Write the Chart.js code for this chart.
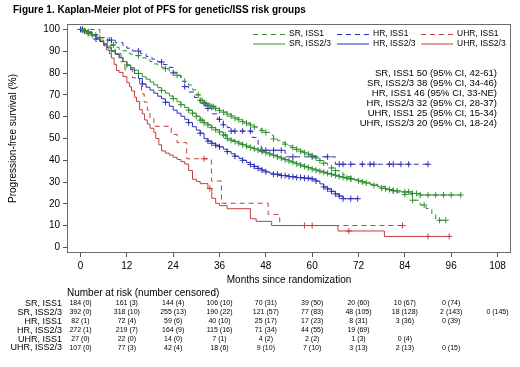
<!DOCTYPE html>
<html>
<head>
<meta charset="utf-8">
<script src="https://cdn.jsdelivr.net/npm/chart.js@4.4.1/dist/chart.umd.min.js"></script>
<style>
  html, body { margin: 0; padding: 0; background: #fff; }
  #wrap { width: 520px; height: 367px; }
</style>
</head>
<body>
<div id="wrap"><canvas id="kmChart" width="520" height="367"></canvas></div>
<script>
// Kaplan-Meier PFS curves: [month, survival %]
const srIss1 = [[0,100],[1,99.5],[2,98.9],[3,98.4],[4,97.3],[5,96.2],[6,95.1],[7,94],[8,92.9],[9,91.8],[10,90.8],[11,90.2],[12,89.1],[13,88.6],[14,88],[15.5,87],[17,86.4],[18,85.3],[19,84.2],[20,83.7],[21,82.6],[22,82],[23,81],[24,80.4],[25,79],[26,77.6],[27,76.2],[28,74.5],[29,72.3],[30,70],[31,67.5],[32,66],[33,65.2],[34,64.6],[35,63.8],[36,62.9],[37,62.1],[38,61.2],[39,60.3],[40,59.4],[41,58.6],[42,57.7],[43,57],[44,56.2],[45,55.3],[46,54.4],[47,53.6],[48,52.8],[49,51.5],[50,49.8],[51,49],[52,48.2],[53,47.4],[54,46.6],[55,45.8],[56,45],[57,44.2],[58,43.5],[59,42.8],[60,42.1],[61,41.1],[62,39.9],[63,38.7],[64,37.5],[65,36.5],[66,35.3],[67,34.3],[68,33.4],[69,32.5],[70,31.7],[71,31],[73,30],[75,29],[77,28],[79,27],[80,26.2],[82,25.4],[84,24.3],[86,21.7],[88,19.5],[89.5,17.9],[91,15],[92,12.5],[94.6,12.5]];
const srIss23 = [[0,100],[1,99.2],[2,98.5],[3,97.4],[4,96.4],[5,95.1],[6,93.6],[7,92],[8,90.3],[9,88.9],[10,87.2],[11,85.3],[12,83.7],[13,82.5],[14,81.3],[15,79.8],[16,78.3],[17,77.2],[18,75.9],[19,74.6],[20,73.3],[21,72],[22,70.8],[23,69.5],[24,68.3],[25,66.8],[26,65.5],[27,64.2],[28,63],[29,61.6],[30,60.2],[31,58.4],[32,57.2],[33,56.2],[34,55],[35,54],[36,53],[37,51.6],[38,49.9],[39,49.2],[40,48.6],[41,47.9],[42,47.2],[43,46.5],[44,45.9],[45,45.3],[46,44.7],[47,44.1],[48,43.5],[49,42.9],[50,42.3],[51,41.6],[52,41],[53,40.3],[54,39.7],[55,39.1],[56,38.4],[57,37.8],[58,37.2],[59,36.6],[60,36],[61,35.5],[62,35],[63,34.5],[64,34],[65,33.6],[66,33.1],[67,32.6],[68,32.2],[69,31.8],[70,31.4],[71,31],[72,30.6],[73,30.1],[74,29.6],[75,29],[76,28.5],[77,27.9],[78,27.2],[79,26.6],[81,26],[83,25.5],[86,24.8],[88,24.1],[98.5,24.1]];
const hrIss1 = [[0,100],[1,98.8],[3,97.6],[5,96.3],[7,95.1],[9,93.9],[11,92.6],[12,91.4],[13.5,90.1],[15.5,88.9],[17,87.6],[18.5,86.4],[20,85.1],[21.5,83.9],[23,82.6],[24,80.1],[25,78.8],[26,76.3],[27,73.8],[28,71.3],[29.5,68.8],[31,66.3],[32.5,63.8],[34,61.3],[35.5,58.8],[37,56.3],[38,55],[39,53.4],[44.5,50.5],[46,47.3],[46.8,44.6],[53,41.6],[66,38.2],[90,38.2]];
const hrIss23 = [[0,100],[1,99.3],[2,98.2],[3,97.1],[4,95.6],[5,94.5],[6,93],[7,91.5],[8,90],[9,88.6],[10,87],[11,85.3],[12,83.5],[13,81.8],[14,79.8],[15,77.5],[16,75],[17,73.5],[18,72.2],[19,70.8],[20,69.4],[21,68.2],[22,66.6],[23,64.8],[24,63],[25,61.6],[26,60.2],[27,58.8],[28,57.3],[29,55.4],[30,53.9],[31,52.4],[32,49.9],[33,48.8],[34,47.8],[35,46.9],[36,46.2],[37,45.1],[38,44],[39,43],[40,41.9],[41,40.9],[42,40],[43,39],[44,38.1],[45,37.2],[46,36.3],[47,35.5],[48,34.7],[49,34.1],[50,33.6],[52,33],[54,32.5],[56,32.1],[58,31.8],[60,31.4],[61,30.5],[62,29.2],[63,27.8],[64,26.9],[65,25.8],[66,24.6],[67,23.6],[68,22.4],[72,22.4]];
const uhrIss1 = [[0,100],[5,96.3],[7.5,92.6],[9,88.9],[10.5,85.2],[11.5,81.5],[13.5,77.8],[15.3,74.1],[15.8,70.4],[16.5,66.7],[17.3,63],[18,59.3],[19,55.6],[23.5,51.9],[25,48.1],[27.5,40.7],[33.9,30.5],[36.5,20.3],[48.6,15.2],[51.6,10.1],[83.4,10.1]];
const uhrIss23 = [[0,100],[1,99.1],[2,98.1],[3,97.2],[4,96.3],[5,94.4],[6,92.5],[6.7,90.6],[7.5,88.8],[8,86.9],[8.7,84],[9.3,81.2],[10,80.3],[11,78.4],[12,75.6],[12.7,73.7],[13.2,71.8],[14,68.9],[14.5,67],[15.3,63.2],[16,61.3],[16.6,58.5],[17.3,56.6],[18,54.7],[19,52.8],[19.5,50],[20.3,47.1],[21,44.3],[22,43.3],[23,42.4],[24,41.4],[25,40.4],[26,39.4],[27,38.3],[28,35.3],[29,31.3],[30,30.3],[31,29.3],[33,27.1],[34,22.6],[35,20.3],[36,19.2],[38,17.8],[44,13.2],[45.5,12],[49.5,10.1],[66.7,7.6],[78.7,5.1],[95.5,5.1]];

// censoring times (months)
const srIss1Cens = [1,2,5,8.5,15,22,25,30.5,31,31.5,32,32.5,33,33.5,34,34.5,35,36,37,38,39,40,41,42,43,44,45,47,48,50,53,55,56,57,58,59,60,61,62,63,65,66,70,79,81,84,86,89,93,94.6];
const srIss23Cens = [0.5,1,2,3,8,12,15,21,24,26,28,29,30,31,31.5,32,33,34,35,36,37,37.5,38,39,40,41,42,43,44,45,46,47,48,49,50,51,52,53,54,55,56,57,58,59,60,61,62,63,64,65,66,67,68,69,70,72,73,74,76,78,80,81,82,84,85,86,87,88,90,92,94,96,98.5];
const hrIss1Cens = [0.5,8,15,21,24,27,32,33,36,37,39,40,42,44,47,48,50,52,55,60,64,67,68,70,73,75,76,80,81,83,85,90];
const hrIss23Cens = [0,0.5,1,4,16,22,28,31,33,34,35,36,38,40,42,44,45,46,47,48,50,51,52,53,54,55,56,57,58,59,60,61,63,64,65,66,67,68,70,71.8];
const uhrIss1Cens = [0.5,32,60,83.4];
const uhrIss23Cens = [0.5,2,33.5,58,69.5,90,95.5];

// number at risk (number censored) at 0,12,...,108 months
const riskTimes = [0,12,24,36,48,60,72,84,96,108];
const riskSR1 = [184,161,144,106,70,39,20,10,0];
const censSR1 = [0,3,4,10,31,50,60,67,74];
const riskSR23 = [392,318,255,190,121,77,48,18,2,0];
const censSR23 = [0,10,13,22,57,83,105,128,143,145];
const riskHR1 = [82,72,59,40,25,17,8,3,0];
const censHR1 = [1,4,6,10,17,23,31,36,39];
const riskHR23 = [272,219,164,115,71,44,19];
const censHR23 = [1,7,9,16,34,55,69];
const riskUHR1 = [27,22,14,7,4,2,1,0];
const censUHR1 = [0,0,0,1,2,2,3,4];
const riskUHR23 = [107,77,42,18,9,7,3,2,0];
const censUHR23 = [0,3,4,6,10,10,13,13,15];

const medianLines = [
  'SR, ISS1 50 (95% CI, 42-61)',
  'SR, ISS2/3 38 (95% CI, 34-46)',
  'HR, ISS1 46 (95% CI, 33-NE)',
  'HR, ISS2/3 32 (95% CI, 28-37)',
  'UHR, ISS1 25 (95% CI, 15-34)',
  'UHR, ISS2/3 20 (95% CI, 18-24)'
];

const GREEN = '#2f8f2f';
const BLUE = '#2e2eb8';
const RED = '#bf3f3f';
const DASH = [5, 4];

const groups = [
  { name: 'SR, ISS1', curve: srIss1, cens: srIss1Cens, risk: riskSR1, censN: censSR1, color: GREEN, dashed: true },
  { name: 'SR, ISS2/3', curve: srIss23, cens: srIss23Cens, risk: riskSR23, censN: censSR23, color: GREEN, dashed: false },
  { name: 'HR, ISS1', curve: hrIss1, cens: hrIss1Cens, risk: riskHR1, censN: censHR1, color: BLUE, dashed: true },
  { name: 'HR, ISS2/3', curve: hrIss23, cens: hrIss23Cens, risk: riskHR23, censN: censHR23, color: BLUE, dashed: false },
  { name: 'UHR, ISS1', curve: uhrIss1, cens: uhrIss1Cens, risk: riskUHR1, censN: censUHR1, color: RED, dashed: true },
  { name: 'UHR, ISS2/3', curve: uhrIss23, cens: uhrIss23Cens, risk: riskUHR23, censN: censUHR23, color: RED, dashed: false }
];

// survival value of a step curve at time t (for placing censor marks)
function survAt(curve, t) {
  let s = curve[0][1];
  for (const [x, y] of curve) {
    if (x <= t) s = y; else break;
  }
  return s;
}

const datasets = [];
groups.forEach(g => {
  datasets.push({
    label: g.name,
    data: g.curve.map(([x, y]) => ({ x, y })),
    showLine: true,
    stepped: 'before',
    borderColor: g.color,
    borderWidth: 1,
    borderDash: g.dashed ? DASH : [],
    pointRadius: 0,
    fill: false
  });
  datasets.push({
    label: g.name + ' censored',
    data: g.cens.map(t => ({ x: t, y: survAt(g.curve, t) })),
    showLine: false,
    pointStyle: 'cross',
    pointRadius: 3,
    pointBorderColor: g.color,
    pointBorderWidth: 1,
    pointBackgroundColor: g.color
  });
});

const FONT = "'Liberation Sans', Arial, sans-serif";
Chart.defaults.font.family = FONT;
Chart.defaults.color = '#000';

const extras = {
  id: 'extras',
  afterDraw(chart) {
    const { ctx, chartArea: a, scales: { x } } = chart;
    ctx.save();
    // title
    ctx.fillStyle = '#000';
    ctx.font = 'bold 10px ' + FONT;
    ctx.textBaseline = 'middle';
    ctx.textAlign = 'left';
    ctx.fillText('Figure 1. Kaplan-Meier plot of PFS for genetic/ISS risk groups', 13, 10);

    // frame around plot
    ctx.strokeStyle = '#6b6b6b';
    ctx.lineWidth = 1;
    ctx.setLineDash([]);
    ctx.strokeRect(a.left + 0.5, a.top + 0.5, a.right - a.left - 1, a.bottom - a.top - 1);

    // legend, 3 columns x 2 rows
    const colX = [253, 337, 421];
    const rowY = [34, 43.5];
    ctx.font = '8.5px ' + FONT;
    groups.forEach((g, i) => {
      const cx = colX[Math.floor(i / 2)];
      const cy = rowY[i % 2];
      ctx.strokeStyle = g.color;
      ctx.setLineDash(g.dashed ? DASH : []);
      ctx.beginPath();
      ctx.moveTo(cx, cy + 0.5);
      ctx.lineTo(cx + 32, cy + 0.5);
      ctx.stroke();
      ctx.fillStyle = '#000';
      ctx.fillText(g.name, cx + 36, cy);
    });
    ctx.setLineDash([]);

    // medians
    ctx.font = '9.5px ' + FONT;
    ctx.textAlign = 'right';
    medianLines.forEach((t, i) => ctx.fillText(t, 497, 73.5 + i * 10));

    // y axis title
    ctx.save();
    ctx.translate(13, (a.top + a.bottom) / 2);
    ctx.rotate(-Math.PI / 2);
    ctx.textAlign = 'center';
    ctx.font = '10px ' + FONT;
    ctx.fillText('Progression-free survival (%)', 0, 0);
    ctx.restore();

    // x axis title
    ctx.textAlign = 'center';
    ctx.font = '10px ' + FONT;
    ctx.fillText('Months since randomization', (a.left + a.right) / 2, 280);

    // number at risk table
    ctx.textAlign = 'left';
    ctx.fillText('Number at risk (number censored)', 67, 293);
    groups.forEach((g, r) => {
      const ry = 303.5 + r * 8.9;
      ctx.font = '9px ' + FONT;
      ctx.textAlign = 'right';
      ctx.fillText(g.name, 62, ry);
      ctx.font = '7px ' + FONT;
      ctx.textAlign = 'center';
      g.risk.forEach((n, k) => {
        ctx.fillText(n + ' (' + g.censN[k] + ')', x.getPixelForValue(riskTimes[k]), ry);
      });
    });
    ctx.restore();
  }
};

new Chart(document.getElementById('kmChart'), {
  type: 'scatter',
  data: { datasets },
  options: {
    responsive: false,
    animation: false,
    events: [],
    layout: { padding: { left: 3, right: 9, top: 24, bottom: 0 } },
    plugins: {
      legend: { display: false },
      tooltip: { enabled: false },
      title: { display: false }
    },
    scales: {
      x: {
        type: 'linear',
        min: -3.5,
        max: 111.5,
        afterBuildTicks: s => { s.ticks = riskTimes.map(v => ({ value: v })); },
        afterFit: s => { s.height = 114; },
        grid: { drawOnChartArea: false, drawTicks: true, tickLength: 4, color: '#555' },
        border: { display: false },
        ticks: { font: { size: 10 }, padding: 3, maxRotation: 0, autoSkip: false }
      },
      y: {
        type: 'linear',
        min: -2.5,
        max: 102.5,
        afterBuildTicks: s => { s.ticks = [0,10,20,30,40,50,60,70,80,90,100].map(v => ({ value: v })); },
        afterFit: s => { s.width = 64; },
        grid: { drawOnChartArea: false, drawTicks: true, tickLength: 4, color: '#555' },
        border: { display: false },
        ticks: { font: { size: 10 }, padding: 3, autoSkip: false }
      }
    }
  },
  plugins: [extras]
});
</script>
</body>
</html>
